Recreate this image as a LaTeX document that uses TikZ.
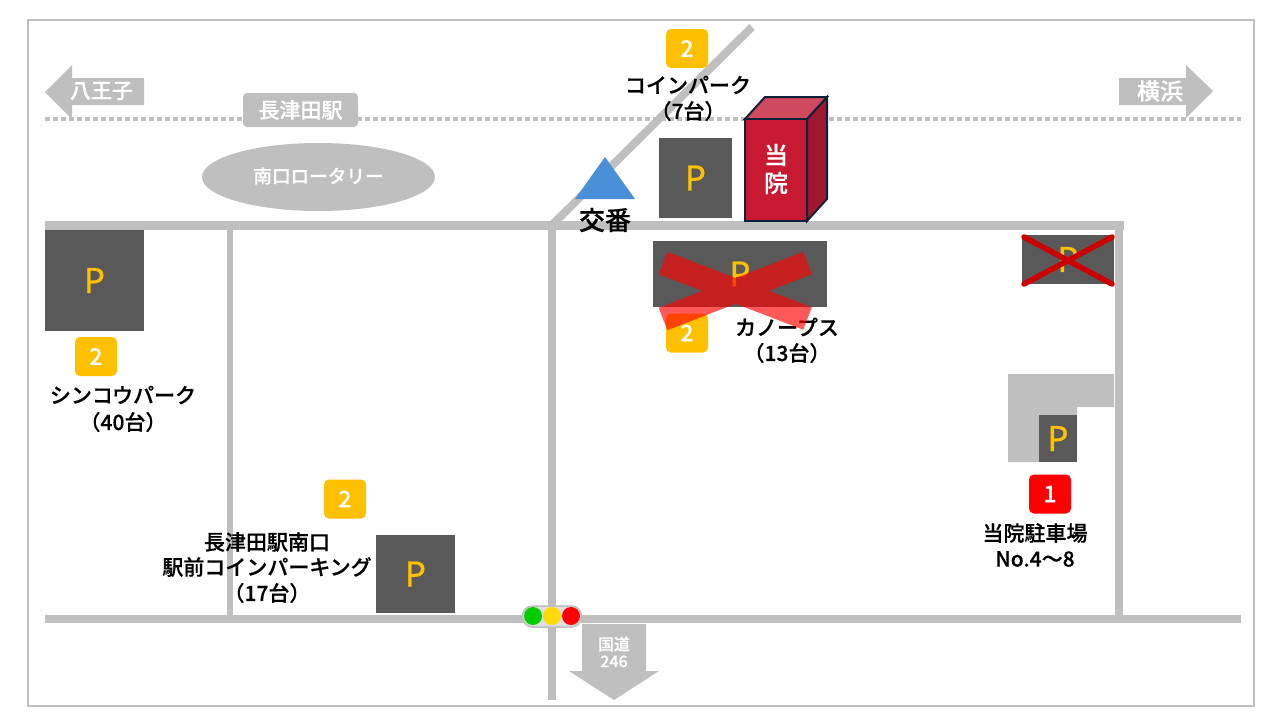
\documentclass[tikz,border=0pt]{standalone}
\usepackage{fontspec}
\setmainfont{Noto Sans CJK JP}[BoldFont={Noto Sans CJK JP Medium},BoldFeatures={FakeBold=0.5}]
\newfontfamily\pfont{Noto Sans}[FakeBold=0.6]
\usepackage{tikz}
\usetikzlibrary{backgrounds,shapes.geometric}
\definecolor{roadgray}{HTML}{BFBFBF}
\definecolor{lotgray}{HTML}{595959}
\definecolor{badgeyellow}{HTML}{FFC000}
\definecolor{kobanblue}{HTML}{4A90D9}
\definecolor{hospnavy}{HTML}{0F203C}
\definecolor{hospfront}{HTML}{C81932}
\definecolor{hosptop}{HTML}{D04A5E}
\definecolor{hospside}{HTML}{A01830}
\definecolor{lampgreen}{HTML}{00CC00}
\definecolor{lampyellow}{HTML}{FFD900}
\definecolor{crossred}{HTML}{CC0000}
\tikzset{
  road/.style={draw=roadgray,line width=#1},
  lot/.style={fill=lotgray,inner sep=0pt,text=badgeyellow,font=\pfont\fontsize{35}{35}\selectfont},
  badge/.style={fill=#1,rounded corners=5pt,minimum width=42pt,minimum height=39pt,inner sep=0pt,text=white,font=\bfseries\fontsize{23}{23}\selectfont},
  lbl/.style={font=\bfseries\fontsize{21}{21}\selectfont,text=black,inner sep=0pt,align=center},
  wlbl/.style={font=\bfseries\fontsize{#1}{#1}\selectfont,text=white,inner sep=0pt,align=center},
  grayshape/.style={fill=roadgray,draw=none},
  hospline/.style={draw=hospnavy,line width=2pt,fill=#1},
  lamp/.style={circle,fill=#1,minimum size=18pt,inner sep=0pt}
}

\begin{document}
\begin{tikzpicture}[x=1pt,y=-1pt]
  \useasboundingbox (0,0) rectangle (1280,720);
  \draw[roadgray,line width=2pt] (28,20) rectangle (1254,706);

  % dotted line of the railway
  \coordinate (railL) at (45,119);
  \coordinate (railR) at (1241,119);
  \draw[roadgray,line width=4pt,dash pattern=on 4.5pt off 3.5pt] (railL) -- (railR);

  % roads
  \coordinate (topL) at (45,225.5);
  \coordinate (topR) at (1124,225.5);
  \coordinate (lowL) at (45,619);
  \coordinate (lowR) at (1241,619);
  \coordinate (v1top) at (229.5,225);
  \coordinate (v1low) at (229.5,619);
  \coordinate (v2top) at (552,225);
  \coordinate (v2low) at (552,700);
  \coordinate (v3top) at (1119,225);
  \coordinate (v3low) at (1119,615);
  \coordinate (diagend) at (752,27);
  \path[road=6pt] (v1top) edge (v1low);
  \path[road=8pt] (v2top) edge (v2low);
  \path[road=8pt] (v3top) edge (v3low);
  \path[road=8pt] (v2top) edge (diagend);
  \path[road=9pt] (topL) edge (topR);
  \path[road=8pt] (lowL) edge (lowR);

  % direction arrows
  \fill[roadgray] (45,92) -- (72,65) -- (72,78) -- (144,78) -- (144,105) -- (72,105) -- (72,119) -- cycle;
  \draw (101.5,91) node[wlbl=21] (hachioji) {八王子};
  \fill[roadgray] (1213,91) -- (1186,65) -- (1186,78) -- (1119,78) -- (1119,105) -- (1186,105) -- (1186,118) -- cycle;
  \draw (1160,91) node[wlbl=23] (yokohama) {横浜};
  \fill[roadgray] (582,624) -- (646,624) -- (646,671) -- (659,671) -- (614,700) -- (569,671) -- (582,671) -- cycle;
  \draw (614,652) node[wlbl=16] (route) {国道\\[1pt]246};

  % station
  \draw (300.5,110) node[grayshape,rounded corners=4pt,minimum width=115pt,minimum height=34pt,inner sep=0pt] (station) {};
  \draw (300.5,110) node[wlbl=21] (stationtxt) {長津田駅};
  \draw (318.5,177) node[ellipse,grayshape,minimum width=233pt,minimum height=68pt,inner sep=0pt] (rotary) {};
  \draw (318.5,176) node[wlbl=18.6] (rotarytxt) {南口ロータリー};

  % police box
  \fill[kobanblue] (605,157) -- (635,199) -- (575,199) -- cycle;
  \draw (605,220) node[font=\bfseries\fontsize{26}{26}\selectfont,inner sep=0pt] (koban) {交番};

  % hospital
  \draw[hospline=hospside] (807,119) -- (827,97) -- (827,199) -- (807,221) -- cycle;
  \draw[hospline=hosptop] (745,119) -- (765,97) -- (827,97) -- (807,119) -- cycle;
  \draw[hospline=hospfront] (745,119) rectangle (807,221);
  \draw (776,169) node[wlbl=24] (hospital) {当\\[4pt]院};

  % garage
  \fill[roadgray] (1008,374) -- (1114,374) -- (1114,407) -- (1077,407) -- (1077,415) -- (1039,415) -- (1039,462) -- (1008,462) -- cycle;

  % parking lots
  \draw (695.5,178) node[lot,minimum width=73pt,minimum height=80pt] (lotcoin) {P};
  \draw (94.5,280.5) node[lot,minimum width=99pt,minimum height=101pt] (lotshinko) {P};
  \draw (415.5,574) node[lot,minimum width=79pt,minimum height=78pt] (lotnagatsuta) {P};
  \draw (1058,438.5) node[lot,minimum width=38pt,minimum height=47pt] (lothospital) {P};
  \draw (1068,259.5) node[lot,minimum width=92pt,minimum height=49pt] (lotclosed) {P};

  % badges
  \draw (687,48.5) node[badge=badgeyellow] (bcoin) {2};
  \draw (96,356.5) node[badge=badgeyellow] (bshinko) {2};
  \draw (345,499) node[badge=badgeyellow] (bnagatsuta) {2};
  \draw (687,333) node[badge=badgeyellow] (bcanopus) {2};
  \draw (1050,494) node[badge=red] (bhospital) {1};
  \draw (740,274) node[lot,minimum width=174pt,minimum height=66pt] (lotcanopus) {P};

  % labels
  \draw (688,85) node[lbl] (coin) {コインパーク};
  \draw (688,111) node[lbl] (coinnum) {（7台）};
  \draw (123,395) node[lbl] (shinko) {シンコウパーク};
  \draw (123,422) node[lbl] (shinkonum) {（40台）};
  \draw (267,542) node[lbl] (nagatsuta) {長津田駅南口};
  \draw (267,567) node[lbl] (maeparking) {駅前コインパーキング};
  \draw (267,593) node[lbl] (nagatsutanum) {（17台）};
  \draw (787,327) node[lbl] (canopus) {カノープス};
  \draw (787,353) node[lbl] (canopusnum) {（13台）};
  \draw (1035,533) node[lbl] (hosplot) {当院駐車場};
  \draw (1035,559) node[lbl] (hospno) {No.4～8};

  % crosses
  \coordinate (xa) at (663,263);
  \coordinate (xb) at (807.5,318.5);
  \coordinate (xc) at (807.5,263);
  \coordinate (xd) at (663,319);
  \draw[red,opacity=0.65,line width=24pt] (xa) -- (xb) (xc) -- (xd);
  \coordinate (ya) at (1024,237);
  \coordinate (yb) at (1112,284);
  \coordinate (yc) at (1112,237);
  \coordinate (yd) at (1024,284);
  \draw[crossred,line width=5.5pt,line cap=round] (ya) -- (yb) (yc) -- (yd);

  % traffic light
  \draw (552,616.5) node[draw=roadgray,line width=1.5pt,fill=gray!25,rounded corners=10pt,minimum width=59pt,minimum height=21pt,inner sep=0pt] (signal) {};
  \draw (533,616) node[lamp=lampgreen] (green) {};
  \draw (552,616) node[lamp=lampyellow] (yellow) {};
  \draw (571,616) node[lamp=red] (stop) {};
\end{tikzpicture}
\end{document}
